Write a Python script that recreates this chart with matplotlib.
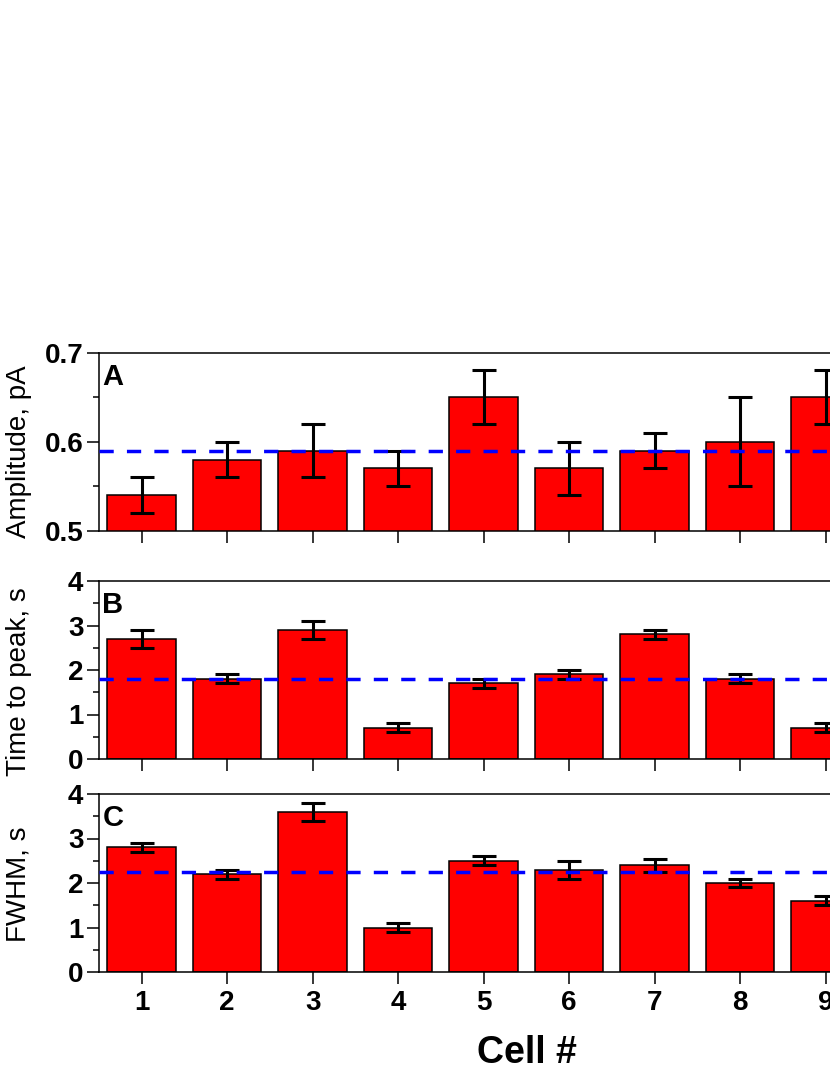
import numpy as np
import matplotlib
matplotlib.use("Agg")
import matplotlib.pyplot as plt
from matplotlib.ticker import MultipleLocator, FormatStrFormatter

plt.rcParams['font.family'] = ['Liberation Sans', 'DejaVu Sans']

cells = [1, 2, 3, 4, 5, 6, 7, 8, 9]

amp = [0.54, 0.58, 0.59, 0.57, 0.65, 0.57, 0.59, 0.60, 0.65]
amp_err = [0.02, 0.02, 0.03, 0.02, 0.03, 0.03, 0.02, 0.05, 0.03]
amp_mean = 0.59

ttp = [2.7, 1.8, 2.9, 0.7, 1.7, 1.9, 2.8, 1.8, 0.7]
ttp_err = [0.2, 0.1, 0.2, 0.1, 0.1, 0.1, 0.1, 0.1, 0.1]
ttp_mean = 1.8

fwhm = [2.8, 2.2, 3.6, 1.0, 2.5, 2.3, 2.4, 2.0, 1.6]
fwhm_err = [0.1, 0.1, 0.2, 0.1, 0.1, 0.2, 0.15, 0.1, 0.1]
fwhm_mean = 2.25

W, H = 830, 1075
fig = plt.figure(figsize=(W / 100, H / 100), dpi=100)

left = 98.9 / W
width = 855 / W
height = 178 / H

panels = [
    # (bottom px, values, errors, mean, ylim, major, minor, fmt, letter, ylabel, label y px)
    (530.7, amp, amp_err, amp_mean, (0.5, 0.7), 0.1, 0.05, '%.1f', 'A', 'Amplitude, pA', 452),
    (759.0, ttp, ttp_err, ttp_mean, (0, 4), 1, 0.5, '%d', 'B', 'Time to peak, s', 682),
    (972.0, fwhm, fwhm_err, fwhm_mean, (0, 4), 1, 0.5, '%d', 'C', 'FWHM, s', 884),
]

for bot, vals, errs, mean, ylim, maj, mnr, fmt, letter, ylab, ly in panels:
    ax = fig.add_axes([left, 1 - bot / H, width, height])
    ax.bar(cells, vals, width=0.8, color='#ff0000', edgecolor='black',
           linewidth=1.1, zorder=2)
    ax.errorbar(cells, vals, yerr=errs, fmt='none', ecolor='black',
                elinewidth=2.2, capsize=8.3, capthick=2.2, zorder=3)
    ax.axhline(mean, color='#0000ff', lw=2.5, linestyle=(0, (4.1, 3.8)), zorder=4)
    ax.set_xlim(0.5, 10.5)
    ax.set_ylim(*ylim)
    ax.set_xticks(range(1, 11))
    ax.yaxis.set_major_locator(MultipleLocator(maj))
    ax.yaxis.set_minor_locator(MultipleLocator(mnr))
    ax.yaxis.set_major_formatter(FormatStrFormatter(fmt))
    for s in ax.spines.values():
        s.set_linewidth(1.1)
    ax.tick_params(axis='both', which='major', direction='out', length=8.6,
                   width=1.1, labelsize=20, pad=2.5)
    ax.tick_params(axis='y', which='minor', direction='out', length=4.3, width=1.1)
    ax.tick_params(axis='x', which='major', pad=4)
    for lab in ax.get_yticklabels() + ax.get_xticklabels():
        lab.set_fontweight('bold')
    if letter != 'C':
        ax.tick_params(axis='x', labelbottom=False)
    ax.text(0.004, 0.82, letter, transform=ax.transAxes, fontsize=21,
            fontweight='bold', ha='left', va='baseline')
    fig.text(19 / W, 1 - ly / H, ylab, rotation=90, fontsize=20,
             ha='center', va='center')

fig.text(527 / W, 1 - 1063 / H, 'Cell #', fontsize=27, fontweight='bold',
         ha='center', va='baseline')

fig.savefig('out.png', dpi=100)
